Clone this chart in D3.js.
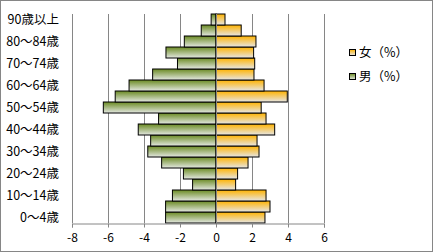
<!DOCTYPE html>
<html>
<meta charset = "utf-8" />
<title>Population pyramid</title>
<head>
    <script src="https://d3js.org/d3.v7.min.js"></script>
    <style>
        body { margin: 0; background: #fff; }
        text { font-family: "Noto Sans CJK JP", "DejaVu Sans", sans-serif; font-size: 11px; fill: #000; }
    </style>
</head>
<body>
    <div id = "chart"></div>

    <script type = "text/javascript">
        // categories bottom -> top
        var ageGroups = ["0～4歳", "5～9歳", "10～14歳", "15～19歳", "20～24歳", "25～29歳",
            "30～34歳", "35～39歳", "40～44歳", "45～49歳", "50～54歳", "55～59歳",
            "60～64歳", "65～69歳", "70～74歳", "75～79歳", "80～84歳", "85～89歳", "90歳以上"];
        var women = [2.72, 3.0, 2.78, 1.09, 1.20, 1.78, 2.39, 2.28, 3.26, 2.78,
            2.51, 3.96, 2.67, 2.11, 2.15, 2.09, 2.22, 1.40, 0.50];
        var men = [-2.80, -2.80, -2.42, -1.30, -1.81, -3.02, -3.79, -3.63, -4.32, -3.19,
            -6.26, -5.60, -4.83, -3.52, -2.14, -2.78, -1.76, -0.82, -0.27];
        var xTicks = [-8, -6, -4, -2, 0, 2, 4, 6];
        var seriesNames = ["女（%）", "男（%）"];

        const W = 433, H = 252,
            plotLeft = 72, plotRight = 324, plotTop = 14, plotBottom = 223;

        var svg = d3.select("#chart").append("svg")
            .attr("width", W)
            .attr("height", H);

        var defs = svg.append("defs");
        function gradient(id, c1, c2) {
            var g = defs.append("linearGradient").attr("id", id)
                .attr("x1", 0).attr("y1", 0).attr("x2", 0).attr("y2", 1);
            g.append("stop").attr("offset", "0%").attr("stop-color", c1);
            g.append("stop").attr("offset", "100%").attr("stop-color", c2);
        }
        gradient("gW", "#ffb300", "#e6e6e6");
        gradient("gM", "#6a8a22", "#e4e8e2");

        // outer frame
        svg.append("rect")
            .attr("x", 0.5).attr("y", 0.5)
            .attr("width", W - 1).attr("height", H - 1)
            .attr("fill", "#fff").attr("stroke", "#868686");

        var x = d3.scaleLinear().domain([-8, 6]).range([plotLeft, plotRight]);
        var y = d3.scaleBand().domain(ageGroups.slice().reverse())
            .range([plotTop, plotBottom]).padding(0);

        // gridlines
        svg.append("g").selectAll("line")
            .data(xTicks)
            .enter()
            .append("line")
            .attr("x1", d => Math.round(x(d)) + 0.5)
            .attr("x2", d => Math.round(x(d)) + 0.5)
            .attr("y1", plotTop).attr("y2", plotBottom)
            .attr("stroke", "#868686");

        // bars
        svg.append("g").selectAll("rect")
            .data(men)
            .enter()
            .append("rect")
            .attr("x", d => x(d))
            .attr("y", (d, i) => y(ageGroups[i]))
            .attr("width", d => x(0) - x(d))
            .attr("height", y.bandwidth())
            .attr("fill", "url(#gM)")
            .attr("stroke", "#000").attr("stroke-width", 1);

        svg.append("g").selectAll("rect")
            .data(women)
            .enter()
            .append("rect")
            .attr("x", x(0))
            .attr("y", (d, i) => y(ageGroups[i]))
            .attr("width", d => x(d) - x(0))
            .attr("height", y.bandwidth())
            .attr("fill", "url(#gW)")
            .attr("stroke", "#000").attr("stroke-width", 1);

        // zero line (category axis)
        svg.append("line")
            .attr("x1", Math.round(x(0)) + 0.5).attr("x2", Math.round(x(0)) + 0.5)
            .attr("y1", plotTop).attr("y2", plotBottom)
            .attr("stroke", "#868686");

        // x axis
        var xAxis = svg.append("g")
            .attr("transform", "translate(0," + (plotBottom + 0.5) + ")")
            .call(d3.axisBottom(x).tickValues(xTicks).tickSize(4).tickPadding(6)
                .tickFormat(d => d));
        xAxis.select(".domain").attr("stroke", "#868686");
        xAxis.selectAll(".tick line").attr("stroke", "#868686");
        xAxis.selectAll("text").style("font-size", "12px").style("font-family", "'Noto Sans CJK JP', sans-serif");

        // category labels, every other one
        svg.append("g").selectAll("text")
            .data(ageGroups.filter((d, i) => i % 2 === 0))
            .enter()
            .append("text")
            .attr("x", 59)
            .attr("y", d => y(d) + y.bandwidth() / 2)
            .attr("dy", "0.35em")
            .attr("text-anchor", "end")
            .style("font-size", "12.5px")
            .text(d => d);

        // legend
        var legend = svg.append("g").selectAll("g")
            .data(seriesNames)
            .enter()
            .append("g")
            .attr("transform", (d, i) => "translate(349," + (53 + i * 24) + ")");
        legend.append("rect")
            .attr("x", 0.5).attr("y", -3.5)
            .attr("width", 6).attr("height", 6)
            .attr("fill", (d, i) => i === 0 ? "url(#gW)" : "url(#gM)")
            .attr("stroke", "#000");
        legend.append("text")
            .attr("x", 10)
            .attr("dy", "0.35em")
            .style("font-size", "12.5px")
            .text(d => d);
    </script>
</body>
</html>
